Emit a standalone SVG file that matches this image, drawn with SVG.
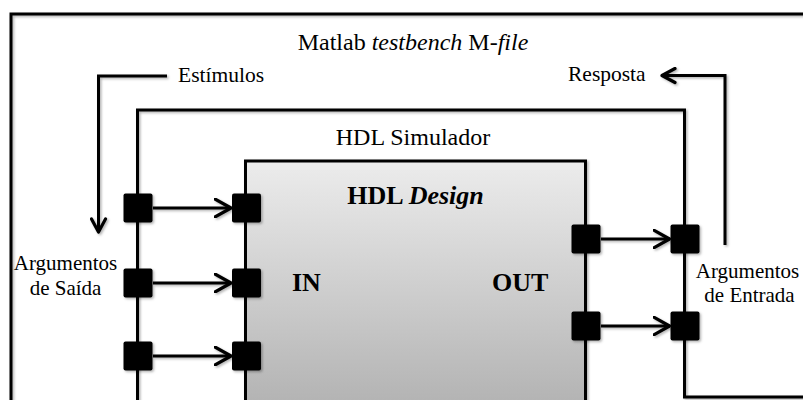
<svg xmlns="http://www.w3.org/2000/svg" width="803" height="400" viewBox="0 0 803 400">
  <defs>
    <linearGradient id="designFill" gradientUnits="userSpaceOnUse" x1="0" y1="161" x2="0" y2="400">
      <stop offset="0" stop-color="#ececec"/>
      <stop offset="1" stop-color="#b4b4b4"/>
    </linearGradient>
    <filter id="shadow" x="-10%" y="-10%" width="130%" height="130%">
      <feDropShadow dx="1.5" dy="1.5" stdDeviation="1" flood-color="#000" flood-opacity="0.3"/>
    </filter>
    <marker id="chev" viewBox="0 0 20 20" refX="17" refY="10" markerWidth="20" markerHeight="20" markerUnits="userSpaceOnUse" orient="auto">
      <path d="M1,1 L17,10 L1,19" fill="none" stroke="#000" stroke-width="3.2" stroke-linecap="round" stroke-linejoin="round"/>
    </marker>
    <marker id="chevSmall" viewBox="0 0 18 18" refX="15" refY="9" markerWidth="18" markerHeight="18" markerUnits="userSpaceOnUse" orient="auto">
      <path d="M2,2 L15,9 L2,16" fill="none" stroke="#000" stroke-width="3.2" stroke-linecap="round" stroke-linejoin="round"/>
    </marker>
  </defs>
  <style>
    .frame { fill: none; stroke: #000; stroke-width: 3; }
    .wire { fill: none; stroke: #000; stroke-width: 3; }
    .port { fill: #000; }
    .title { font-family: "Liberation Serif", "Times New Roman", serif; font-size: 24px; fill: #000; text-anchor: middle; }
    .label { font-family: "Liberation Serif", "Times New Roman", serif; font-size: 21.5px; fill: #000; }
    .arg { font-family: "Liberation Serif", "Times New Roman", serif; font-size: 21px; fill: #000; text-anchor: middle; }
    .bold { font-family: "Liberation Serif", "Times New Roman", serif; font-size: 26px; font-weight: bold; fill: #000; }
  </style>

  <rect width="803" height="400" fill="#fff"/>

  <!-- Matlab testbench: outer frame -->
  <g id="matlab-testbench">
    <path class="frame" d="M11,402 L11,14 L805,14" filter="url(#shadow)"/>
    <text class="title" x="413" y="50">Matlab <tspan font-style="italic">testbench</tspan> M-<tspan font-style="italic">file</tspan></text>
  </g>

  <!-- HDL simulator frame -->
  <g id="hdl-simulador">
    <path class="frame" d="M137.5,402 L137.5,110 L684.5,110 L684.5,397 L805,397" filter="url(#shadow)"/>
    <text class="title" x="413" y="145">HDL Simulador</text>
  </g>

  <!-- HDL design block -->
  <g id="hdl-design">
    <rect x="245.5" y="161" width="340" height="260" fill="url(#designFill)" stroke="#000" stroke-width="3" filter="url(#shadow)"/>
    <text class="bold" x="415.5" y="204" text-anchor="middle">HDL <tspan font-style="italic">Design</tspan></text>
    <text class="bold" x="292" y="291">IN</text>
    <text class="bold" x="492" y="291">OUT</text>
  </g>

  <!-- Port terminals -->
  <g id="ports" filter="url(#shadow)">
    <rect class="port" x="123.5" y="193.5" width="29" height="29" rx="2"/>
    <rect class="port" x="123.5" y="268.5" width="29" height="29" rx="2"/>
    <rect class="port" x="123.5" y="341.5" width="29" height="29" rx="2"/>
    <rect class="port" x="232" y="193.5" width="29" height="29" rx="2"/>
    <rect class="port" x="232" y="268.5" width="29" height="29" rx="2"/>
    <rect class="port" x="232" y="341.5" width="29" height="29" rx="2"/>
    <rect class="port" x="571.5" y="224.5" width="29" height="29" rx="2"/>
    <rect class="port" x="571.5" y="311.5" width="29" height="29" rx="2"/>
    <rect class="port" x="670.5" y="224.5" width="29" height="29" rx="2"/>
    <rect class="port" x="670.5" y="311.5" width="29" height="29" rx="2"/>
  </g>

  <!-- Signal connectors -->
  <g id="connectors" filter="url(#shadow)">
    <path class="wire" d="M153,208 L231,208" marker-end="url(#chev)"/>
    <path class="wire" d="M153,283 L231,283" marker-end="url(#chev)"/>
    <path class="wire" d="M153,356 L231,356" marker-end="url(#chev)"/>
    <path class="wire" d="M601,239 L669.5,239" marker-end="url(#chev)"/>
    <path class="wire" d="M601,326 L669.5,326" marker-end="url(#chev)"/>
    <path class="wire" d="M167,76 L98.5,76 L98.5,232" marker-end="url(#chevSmall)"/>
    <path class="wire" d="M725,245 L725,75.5 L662,75.5" marker-end="url(#chevSmall)"/>
  </g>

  <!-- Signal labels -->
  <g id="labels">
    <text class="label" x="178" y="82">Estímulos</text>
    <text class="label" x="568" y="81">Resposta</text>
    <text class="arg" x="65.5" y="270">Argumentos</text>
    <text class="arg" x="65.5" y="295">de Saída</text>
    <text class="arg" x="747.5" y="278">Argumentos</text>
    <text class="arg" x="749.5" y="302">de Entrada</text>
  </g>
</svg>
